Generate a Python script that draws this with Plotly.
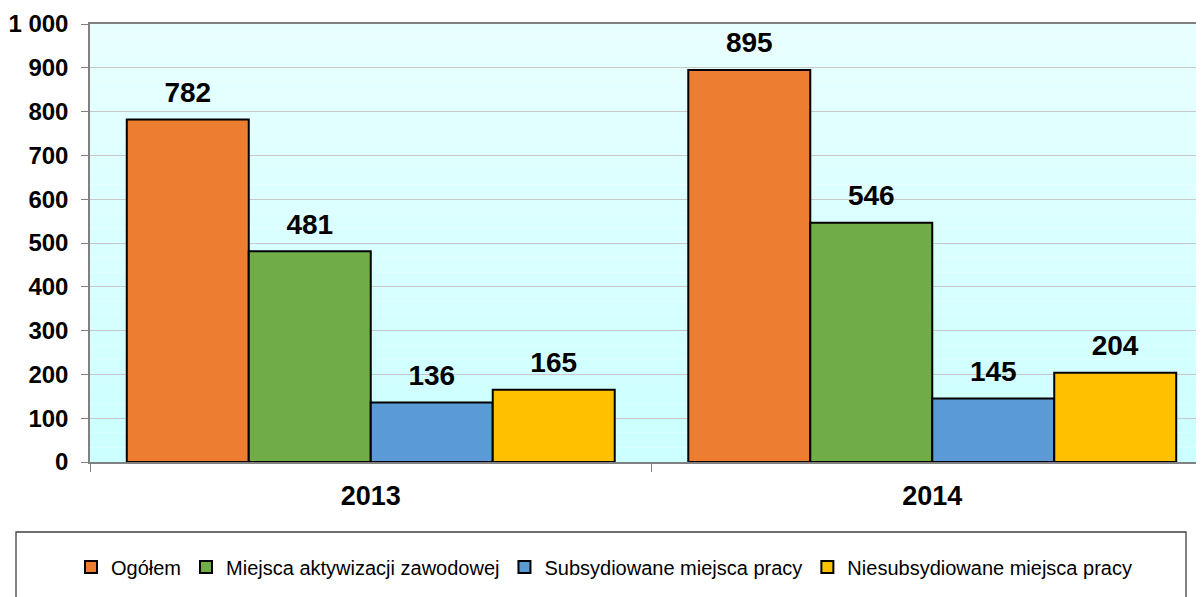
import plotly.graph_objects as go

years = ["2013", "2014"]
series_names = ["Ogółem", "Miejsca aktywizacji zawodowej",
                "Subsydiowane miejsca pracy", "Niesubsydiowane miejsca pracy"]
ogolem = [782, 895]
aktywizacja = [481, 546]
subsydiowane = [136, 145]
niesubsydiowane = [165, 204]
y_ticks = [0, 100, 200, 300, 400, 500, 600, 700, 800, 900, 1000]

series_values = [ogolem, aktywizacja, subsydiowane, niesubsydiowane]
colors = ["#ED7D31", "#70AD47", "#5B9BD5", "#FFC000"]
FONT = "Liberation Sans, Arial, sans-serif"
LABEL_PAD = 20  # data units between bar top and its label

fig = go.Figure()
for i, (name, vals, col) in enumerate(zip(series_names, series_values, colors)):
    fig.add_trace(go.Bar(
        x=years, y=vals, name=name, offsetgroup=str(i),
        marker=dict(color=col, line=dict(color="#000000", width=2)),
        hoverinfo="skip",
    ))
for i, vals in enumerate(series_values):
    # invisible carrier bars to place value labels with a gap above each bar
    fig.add_trace(go.Bar(
        x=years, y=[LABEL_PAD] * len(vals), base=vals, offsetgroup=str(i),
        marker=dict(color="rgba(0,0,0,0)", line=dict(width=0)),
        text=[f"{v}" for v in vals], textposition="outside",
        textfont=dict(family=FONT, size=28, color="#000000", weight="bold"),
        cliponaxis=False, showlegend=False, hoverinfo="skip",
    ))

# vertical gradient background of the plot area
shapes = []
n_bands = 30
for k in range(n_bands):
    g = round(204 + (232 - 204) * (k + 0.5) / n_bands)
    shapes.append(dict(type="rect", xref="paper", yref="paper",
                       x0=0, x1=1, y0=k / n_bands, y1=(k + 1) / n_bands,
                       fillcolor=f"rgb({g},255,255)", line=dict(width=0), layer="below"))
# legend frame
shapes.append(dict(type="rect", xref="paper", yref="paper",
                   x0=(16 - 90) / 1114, x1=(1186 - 90) / 1114,
                   y0=-(610 - 462) / 438, y1=-(532 - 462) / 438,
                   line=dict(color="#404040", width=1.3), fillcolor="rgba(0,0,0,0)", layer="above"))

fig.update_layout(
    width=1196, height=589,
    margin=dict(l=82, r=0, t=16, b=135),
    paper_bgcolor="#FFFFFF", plot_bgcolor="rgba(0,0,0,0)",
    barmode="group", bargap=0.131, bargroupgap=0,
    separators=", ",
    showlegend=True,
    legend=dict(orientation="h", x=0.4614, xanchor="center", y=-0.24, yanchor="middle",
                font=dict(family=FONT, size=20, color="#000000"),
                bgcolor="rgba(0,0,0,0)", borderwidth=0, traceorder="normal",
                itemclick=False, itemdoubleclick=False),
    shapes=shapes,
    font=dict(family=FONT, color="#000000"),
)
fig.update_xaxes(
    range=[-0.5, -0.5 + 1114 / 561.5],
    showline=True, linecolor="#808080", linewidth=1.5, mirror=True,
    ticks="outside", tickson="boundaries", ticklen=8, tickcolor="#808080", tickwidth=1,
    tickfont=dict(family=FONT, size=27, color="#000000", weight="bold"),
    ticklabelstandoff=9,
    showgrid=False, zeroline=False,
)
fig.update_yaxes(
    range=[0, 1000], tickvals=y_ticks, tickformat=",",
    showline=True, linecolor="#808080", linewidth=1.5,
    ticks="outside", ticklen=7, tickcolor="#808080", tickwidth=1,
    tickfont=dict(family=FONT, size=24, color="#000000", weight="bold"),
    ticklabelstandoff=8,
    showgrid=True, gridcolor="#C8C8C8", gridwidth=1.3, zeroline=False,
)

fig.write_html("out.html")
